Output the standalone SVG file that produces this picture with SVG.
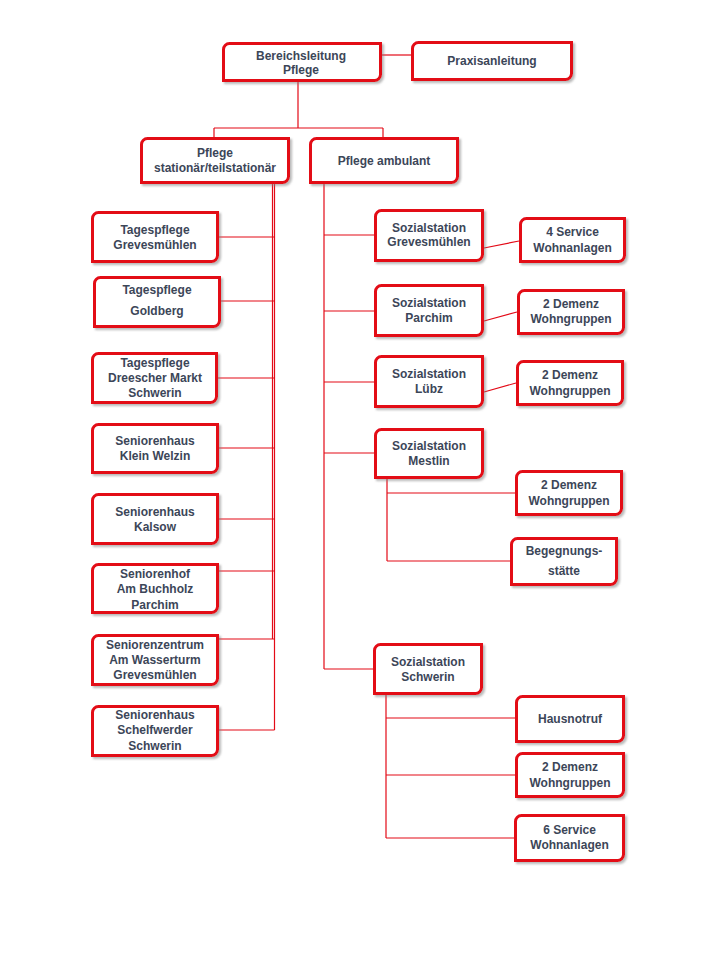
<svg xmlns="http://www.w3.org/2000/svg" width="701" height="971" viewBox="0 0 701 971">
<style>
.box{fill:#fff;stroke:#e30a17;stroke-width:3;filter:url(#sh)}
.t{font-family:"Liberation Sans",Arial,sans-serif;font-weight:bold;font-size:12px;fill:#3c4658;text-anchor:middle}
.c{fill:none;stroke:#e30a17;stroke-width:1.2}
</style>
<defs>
<filter id="sh" x="-10%" y="-10%" width="130%" height="140%">
<feDropShadow dx="2" dy="2" stdDeviation="1" flood-color="#808080" flood-opacity="0.55"/>
</filter>
</defs>
<rect width="701" height="971" fill="#fff"/>
<g id="connectors">
<path class="c" d="M382 55 H411"/>
<path class="c" d="M298 82 V128 M214 128 H383 M214 128 V137 M383 128 V137"/>
<path class="c" d="M272.5 184 V639 M274.5 184 V730"/>
<path class="c" d="M219 237 H274.5 M221 301 H274.5 M218 378 H274.5 M219 448 H274.5 M219 519 H274.5 M219 571 H274.5 M219 639 H274.5 M219 730 H274.5"/>
<path class="c" d="M324 184 V669 M324 235 H374 M324 311 H374 M324 382 H374 M324 453 H374 M324 669 H373"/>
<path class="c" d="M484 248 L519 241 M484 321 L517 312 M484 392 L516 383"/>
<path class="c" d="M387 479 V561 M387 493 H515 M387 561 H510"/>
<path class="c" d="M386 695 V838 M386 718 H515 M386 775 H515 M386 838 H514"/>
</g>
<g id="bereichsleitung"><path class="box" d="M223.5 49.5 A6 6 0 0 1 229.5 43.5 H380.5 V74.5 A6 6 0 0 1 374.5 80.5 H223.5 Z"/><text class="t" x="301" y="59.5">Bereichsleitung</text><text class="t" x="301" y="73.5">Pflege</text></g>
<g id="praxisanleitung"><path class="box" d="M412.5 48.5 A6 6 0 0 1 418.5 42.5 H571.5 V73.5 A6 6 0 0 1 565.5 79.5 H412.5 Z"/><text class="t" x="492" y="65">Praxisanleitung</text></g>
<g id="pflege-stationaer"><path class="box" d="M141.5 144.5 A6 6 0 0 1 147.5 138.5 H288.5 V176.5 A6 6 0 0 1 282.5 182.5 H141.5 Z"/><text class="t" x="215" y="156.5">Pflege</text><text class="t" x="215" y="171.5">stationär/teilstationär</text></g>
<g id="pflege-ambulant"><path class="box" d="M310.5 144.5 A6 6 0 0 1 316.5 138.5 H457.5 V176.5 A6 6 0 0 1 451.5 182.5 H310.5 Z"/><text class="t" x="384" y="164.5">Pflege ambulant</text></g>
<g id="tp-grevesmuehlen"><path class="box" d="M92.5 218.5 A6 6 0 0 1 98.5 212.5 H217.5 V255.5 A6 6 0 0 1 211.5 261.5 H92.5 Z"/><text class="t" x="155" y="233.5">Tagespflege</text><text class="t" x="155" y="248.5">Grevesmühlen</text></g>
<g id="tp-goldberg"><path class="box" d="M94.5 283.5 A6 6 0 0 1 100.5 277.5 H219.5 V320.5 A6 6 0 0 1 213.5 326.5 H94.5 Z"/><text class="t" x="157" y="294">Tagespflege</text><text class="t" x="157" y="315">Goldberg</text></g>
<g id="tp-dreescher"><path class="box" d="M92.5 359.5 A6 6 0 0 1 98.5 353.5 H216.5 V396.5 A6 6 0 0 1 210.5 402.5 H92.5 Z"/><text class="t" x="155" y="366.5">Tagespflege</text><text class="t" x="155" y="381.5">Dreescher Markt</text><text class="t" x="155" y="396.5">Schwerin</text></g>
<g id="sh-kleinwelzin"><path class="box" d="M92.5 430.5 A6 6 0 0 1 98.5 424.5 H217.5 V466.5 A6 6 0 0 1 211.5 472.5 H92.5 Z"/><text class="t" x="155" y="444.5">Seniorenhaus</text><text class="t" x="155" y="459.5">Klein Welzin</text></g>
<g id="sh-kalsow"><path class="box" d="M92.5 500.5 A6 6 0 0 1 98.5 494.5 H217.5 V537.5 A6 6 0 0 1 211.5 543.5 H92.5 Z"/><text class="t" x="155" y="515.5">Seniorenhaus</text><text class="t" x="155" y="530.5">Kalsow</text></g>
<g id="sh-buchholz"><path class="box" d="M92.5 570.5 A6 6 0 0 1 98.5 564.5 H217.5 V606.5 A6 6 0 0 1 211.5 612.5 H92.5 Z"/><text class="t" x="155" y="577.5">Seniorenhof</text><text class="t" x="155" y="593">Am Buchholz</text><text class="t" x="155" y="608.5">Parchim</text></g>
<g id="sz-wasserturm"><path class="box" d="M92.5 641.5 A6 6 0 0 1 98.5 635.5 H217.5 V678.5 A6 6 0 0 1 211.5 684.5 H92.5 Z"/><text class="t" x="155" y="648.5">Seniorenzentrum</text><text class="t" x="155" y="663.5">Am Wasserturm</text><text class="t" x="155" y="679">Grevesmühlen</text></g>
<g id="sh-schelfwerder"><path class="box" d="M92.5 712.5 A6 6 0 0 1 98.5 706.5 H217.5 V749.5 A6 6 0 0 1 211.5 755.5 H92.5 Z"/><text class="t" x="155" y="718.5">Seniorenhaus</text><text class="t" x="155" y="734">Schelfwerder</text><text class="t" x="155" y="749.5">Schwerin</text></g>
<g id="ss-grevesmuehlen"><path class="box" d="M375.5 216.5 A6 6 0 0 1 381.5 210.5 H482.5 V254.5 A6 6 0 0 1 476.5 260.5 H375.5 Z"/><text class="t" x="429" y="231.5">Sozialstation</text><text class="t" x="429" y="245.5">Grevesmühlen</text></g>
<g id="service4"><path class="box" d="M520.5 224.5 A6 6 0 0 1 526.5 218.5 H624.5 V255.5 A6 6 0 0 1 618.5 261.5 H520.5 Z"/><text class="t" x="572.5" y="236">4 Service</text><text class="t" x="572.5" y="251.5">Wohnanlagen</text></g>
<g id="ss-parchim"><path class="box" d="M375.5 291.5 A6 6 0 0 1 381.5 285.5 H482.5 V329.5 A6 6 0 0 1 476.5 335.5 H375.5 Z"/><text class="t" x="429" y="306.5">Sozialstation</text><text class="t" x="429" y="322">Parchim</text></g>
<g id="demenz-parchim"><path class="box" d="M518.5 296.5 A6 6 0 0 1 524.5 290.5 H623.5 V327.5 A6 6 0 0 1 617.5 333.5 H518.5 Z"/><text class="t" x="571" y="307.5">2 Demenz</text><text class="t" x="571" y="323">Wohngruppen</text></g>
<g id="ss-luebz"><path class="box" d="M375.5 362.5 A6 6 0 0 1 381.5 356.5 H482.5 V400.5 A6 6 0 0 1 476.5 406.5 H375.5 Z"/><text class="t" x="429" y="377.5">Sozialstation</text><text class="t" x="429" y="392.5">Lübz</text></g>
<g id="demenz-luebz"><path class="box" d="M517.5 367.5 A6 6 0 0 1 523.5 361.5 H622.5 V398.5 A6 6 0 0 1 616.5 404.5 H517.5 Z"/><text class="t" x="570" y="379">2 Demenz</text><text class="t" x="570" y="395">Wohngruppen</text></g>
<g id="ss-mestlin"><path class="box" d="M375.5 435.5 A6 6 0 0 1 381.5 429.5 H482.5 V471.5 A6 6 0 0 1 476.5 477.5 H375.5 Z"/><text class="t" x="429" y="449.5">Sozialstation</text><text class="t" x="429" y="464.5">Mestlin</text></g>
<g id="demenz-mestlin"><path class="box" d="M516.5 477.5 A6 6 0 0 1 522.5 471.5 H621.5 V508.5 A6 6 0 0 1 615.5 514.5 H516.5 Z"/><text class="t" x="569" y="489">2 Demenz</text><text class="t" x="569" y="504.5">Wohngruppen</text></g>
<g id="begegnung"><path class="box" d="M511.5 544.5 A6 6 0 0 1 517.5 538.5 H616.5 V578.5 A6 6 0 0 1 610.5 584.5 H511.5 Z"/><text class="t" x="564" y="554.5">Begegnungs-</text><text class="t" x="564" y="575">stätte</text></g>
<g id="ss-schwerin"><path class="box" d="M374.5 650.5 A6 6 0 0 1 380.5 644.5 H481.5 V687.5 A6 6 0 0 1 475.5 693.5 H374.5 Z"/><text class="t" x="428" y="665.5">Sozialstation</text><text class="t" x="428" y="680.5">Schwerin</text></g>
<g id="hausnotruf"><path class="box" d="M516.5 702.5 A6 6 0 0 1 522.5 696.5 H623.5 V735.5 A6 6 0 0 1 617.5 741.5 H516.5 Z"/><text class="t" x="570" y="722.5">Hausnotruf</text></g>
<g id="demenz-schwerin"><path class="box" d="M516.5 759.5 A6 6 0 0 1 522.5 753.5 H623.5 V790.5 A6 6 0 0 1 617.5 796.5 H516.5 Z"/><text class="t" x="570" y="770.5">2 Demenz</text><text class="t" x="570" y="786.5">Wohngruppen</text></g>
<g id="service6"><path class="box" d="M515.5 821.5 A6 6 0 0 1 521.5 815.5 H623.5 V854.5 A6 6 0 0 1 617.5 860.5 H515.5 Z"/><text class="t" x="569.5" y="833.5">6 Service</text><text class="t" x="569.5" y="849">Wohnanlagen</text></g>
</svg>
